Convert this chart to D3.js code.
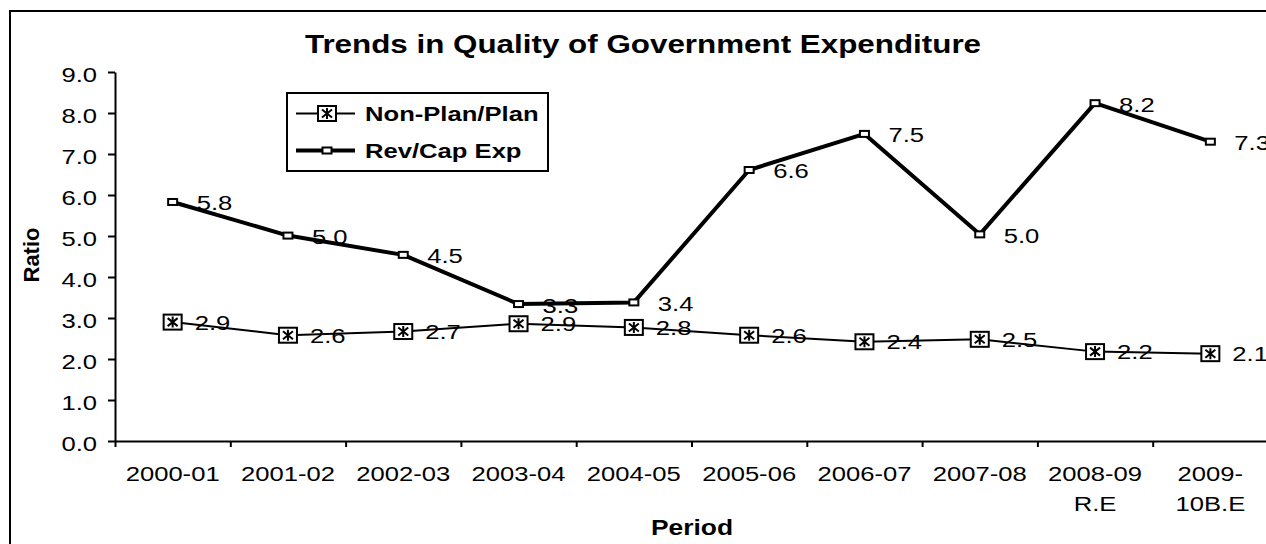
<!DOCTYPE html>
<html>
<head>
<meta charset="utf-8">
<script src="https://cdn.jsdelivr.net/npm/d3@7"></script>
<style>
  body { margin: 0; background: #fff; }
  svg { display: block; font-family: "Liberation Sans", Arial, sans-serif; }
</style>
</head>
<body>
<div id="chart"></div>
<script>
// Chart data.
let categories = ["2000-01", "2001-02", "2002-03", "2003-04", "2004-05", "2005-06", "2006-07", "2007-08", "2008-09 R.E", "2009-10B.E"];
let xTickLines = [["2000-01"], ["2001-02"], ["2002-03"], ["2003-04"], ["2004-05"], ["2005-06"], ["2006-07"], ["2007-08"], ["2008-09", "R.E"], ["2009-", "10B.E"]];
let nonPlanPlan = [2.90, 2.58, 2.67, 2.86, 2.77, 2.58, 2.42, 2.48, 2.18, 2.13];
let revCapExp = [5.83, 5.01, 4.54, 3.34, 3.38, 6.61, 7.49, 5.04, 8.24, 7.30];
let yTicks = [0, 1, 2, 3, 4, 5, 6, 7, 8, 9];
let seriesNames = ["Non-Plan/Plan", "Rev/Cap Exp"];

// Page size and plot box.
let W = 1266, H = 544;
let plot = {left: 115, right: 1268, top: 72, bottom: 441};
// Text in the picture is stretched horizontally.
let SX = 1.22;

let svg = d3.select("#chart")
            .append("svg")
            .attr("width", W)
            .attr("height", H);

// Outer chart border.
svg.append("rect")
   .attr("x", 10).attr("y", 11)
   .attr("width", W + 20).attr("height", H + 20)
   .attr("fill", "none")
   .attr("stroke", "#000")
   .attr("stroke-width", 2);

// Scales.
let x = d3.scaleBand()
          .domain(categories)
          .range([plot.left, plot.right])
          .padding(0);
let xEdge = d3.scaleLinear()
              .domain([0, categories.length])
              .range([plot.left, plot.right]);
let y = d3.scaleLinear()
          .domain([0, 9])
          .range([plot.bottom, plot.top]);
let cx = function(i) { return x(categories[i]) + x.bandwidth() / 2; };

// Y axis.
let yAxis = svg.append("g")
   .attr("transform", "translate(" + plot.left + ",0)")
   .call(d3.axisLeft(y).tickValues(yTicks).tickFormat(d3.format(".1f")).tickSize(7).tickSizeOuter(0));
yAxis.select(".domain").attr("stroke-width", 2);
yAxis.selectAll(".tick line").attr("stroke-width", 2);
yAxis.selectAll(".tick text")
     .attr("x", null).attr("dy", null)
     .attr("transform", "translate(-18,9.5) scale(" + SX + ",1)")
     .attr("text-anchor", "end")
     .style("font-size", "21px")
     .attr("font-family", null)
     .attr("fill", "#000");

// X axis: ticks at category edges.
let xAxis = svg.append("g")
   .attr("transform", "translate(0," + plot.bottom + ")")
   .call(d3.axisBottom(xEdge).ticks(categories.length).tickFormat("").tickSize(6).tickSizeOuter(0));
xAxis.select(".domain").attr("stroke-width", 2);
xAxis.selectAll(".tick line").attr("stroke-width", 2);

// X tick labels, centred in each band.
let xl = svg.append("g").selectAll("text")
   .data(categories)
   .enter()
   .append("text")
   .attr("transform", function(d) { return "translate(" + (x(d) + x.bandwidth() / 2) + ",481) scale(" + SX + ",1)"; })
   .attr("text-anchor", "middle")
   .style("font-size", "21px");
xl.selectAll("tspan")
  .data(function(d, i) { return xTickLines[i]; })
  .enter()
  .append("tspan")
  .attr("x", 0)
  .attr("y", function(d, j) { return j * 30; })
  .text(function(d) { return d; });

// Title.
svg.append("text")
   .attr("transform", "translate(643,53) scale(1.23,1)")
   .attr("text-anchor", "middle")
   .style("font-size", "25.5px")
   .style("font-weight", "bold")
   .text("Trends in Quality of Government Expenditure");

// Axis titles.
svg.append("text")
   .attr("transform", "translate(39,255) rotate(-90)")
   .attr("text-anchor", "middle")
   .style("font-size", "22px")
   .style("font-weight", "bold")
   .text("Ratio");

svg.append("text")
   .attr("transform", "translate(692,535) scale(1.2,1)")
   .attr("text-anchor", "middle")
   .style("font-size", "22px")
   .style("font-weight", "bold")
   .text("Period");

// Markers.
function boxStar(g) {
    g.append("rect")
     .attr("x", -9).attr("y", -7.5)
     .attr("width", 18).attr("height", 15)
     .attr("fill", "#fff")
     .attr("stroke", "#000")
     .attr("stroke-width", 2);
    g.append("path")
     .attr("d", "M0,-5.5V5.5M-5,-4L5,4M-5,4L5,-4")
     .attr("stroke", "#000")
     .attr("stroke-width", 2);
}
function smallBox(g) {
    g.append("rect")
     .attr("x", -4.5).attr("y", -3)
     .attr("width", 9).attr("height", 6)
     .attr("fill", "#fff")
     .attr("stroke", "#000")
     .attr("stroke-width", 2);
}

// Lines.
let line = d3.line()
             .x(function(d, i) { return cx(i); })
             .y(function(d) { return y(d); });

svg.append("path")
   .datum(revCapExp)
   .attr("fill", "none")
   .attr("stroke", "#000")
   .attr("stroke-width", 4)
   .attr("stroke-linejoin", "round")
   .attr("d", line);

svg.append("path")
   .datum(nonPlanPlan)
   .attr("fill", "none")
   .attr("stroke", "#000")
   .attr("stroke-width", 2)
   .attr("d", line);

svg.append("g").selectAll("g")
   .data(revCapExp)
   .enter()
   .append("g")
   .attr("transform", function(d, i) { return "translate(" + cx(i) + "," + y(d) + ")"; })
   .each(function() { smallBox(d3.select(this)); });

svg.append("g").selectAll("g")
   .data(nonPlanPlan)
   .enter()
   .append("g")
   .attr("transform", function(d, i) { return "translate(" + cx(i) + "," + y(d) + ")"; })
   .each(function() { boxStar(d3.select(this)); });

// Data labels.
let fmt = d3.format(".1f");
svg.append("g").selectAll("text")
   .data(revCapExp)
   .enter()
   .append("text")
   .attr("transform", function(d, i) { return "translate(" + (cx(i) + 24) + "," + (y(d) + 8.5) + ") scale(" + SX + ",1)"; })
   .style("font-size", "21px")
   .text(function(d) { return fmt(d); });

svg.append("g").selectAll("text")
   .data(nonPlanPlan)
   .enter()
   .append("text")
   .attr("transform", function(d, i) { return "translate(" + (cx(i) + 22) + "," + (y(d) + 7.5) + ") scale(" + SX + ",1)"; })
   .style("font-size", "21px")
   .text(function(d) { return fmt(d); });

// Legend.
let legend = svg.append("g");
legend.append("rect")
      .attr("x", 287).attr("y", 93)
      .attr("width", 261).attr("height", 78)
      .attr("fill", "#fff")
      .attr("stroke", "#000")
      .attr("stroke-width", 2);

let legendY = [113.5, 150.5];
let legendW = [2, 4];
seriesNames.forEach(function(name, i) {
    legend.append("line")
          .attr("x1", 296).attr("x2", 355)
          .attr("y1", legendY[i]).attr("y2", legendY[i])
          .attr("stroke", "#000")
          .attr("stroke-width", legendW[i]);
    let m = legend.append("g").attr("transform", "translate(327," + legendY[i] + ")");
    if (i === 0) boxStar(m); else smallBox(m);
    legend.append("text")
          .attr("transform", "translate(365," + (legendY[i] + 7.5) + ") scale(" + SX + ",1)")
          .style("font-size", "21px")
          .style("font-weight", "bold")
          .text(name);
});
</script>
</body>
</html>
